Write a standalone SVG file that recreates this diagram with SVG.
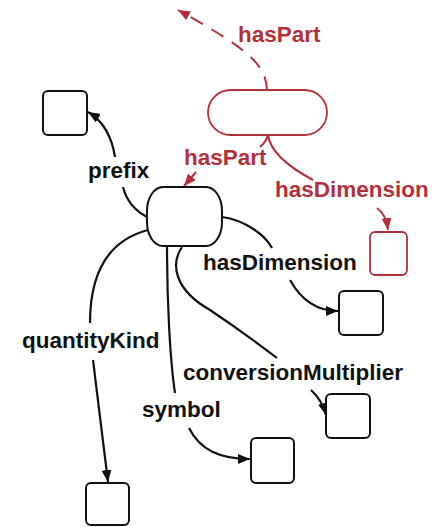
<svg xmlns="http://www.w3.org/2000/svg" width="442" height="527" viewBox="0 0 442 527">
<style>
.lbl{font-family:"Liberation Sans",Arial,sans-serif;font-weight:bold;font-size:22.5px}
.blk{fill:#111}
.red{fill:#b3303b}
.box{fill:#fff;stroke:#111;stroke-width:2}
.rbox{fill:#fff;stroke:#b3303b;stroke-width:1.8}
.e{fill:none;stroke:#111;stroke-width:2.2}
.re{fill:none;stroke:#b3303b;stroke-width:2}
</style>
<defs>
<marker id="ab" viewBox="0 0 12 10" refX="12" refY="5" markerWidth="12" markerHeight="10" markerUnits="userSpaceOnUse" orient="auto">
<path d="M0,0 L12,5 L0,10 z" fill="#111"/>
</marker>
<marker id="ar" viewBox="0 0 12 10" refX="12" refY="5" markerWidth="12" markerHeight="10" markerUnits="userSpaceOnUse" orient="auto">
<path d="M0,0 L12,5 L0,10 z" fill="#b3303b"/>
</marker>
</defs>
<g id="connectors">
<path class="re" d="M267,90 C266,65 250,50 178,10" stroke-dasharray="14 10" marker-end="url(#ar)"/>
<path class="re" d="M268,135 Q266,142 260,147"/>
<path class="re" d="M196,172 L184,186" marker-end="url(#ar)"/>
<path class="re" d="M268,135 C270,150 285,165 313,180"/>
<path class="re" d="M377,208 Q386,214 388,230" marker-end="url(#ar)"/>
<path class="e" d="M147,217 Q128,207 123,187"/>
<path class="e" d="M115,157 Q110,125 88,112" marker-end="url(#ab)"/>
<path class="e" d="M148,230 C110,240 90,270 90,323"/>
<path class="e" d="M93,360 L108,482" marker-end="url(#ab)"/>
<path class="e" d="M167,247 C167,300 170,360 175,393"/>
<path class="e" d="M189,428 C200,450 220,459 250,459" marker-end="url(#ab)"/>
<path class="e" d="M182,247 C170,265 175,290 210,310 C240,330 260,345 277,358"/>
<path class="e" d="M311,390 Q322,400 326,415" marker-end="url(#ab)"/>
<path class="e" d="M222,217 C245,220 265,235 272,248"/>
<path class="e" d="M290,280 C300,298 315,311 338,311" marker-end="url(#ab)"/>
</g>
<g id="n_red_pill"><rect class="rbox" x="208" y="90" width="119" height="45" rx="22.5" ry="22.5"/></g>
<g id="n_red_box"><rect class="rbox" x="370" y="232" width="37" height="43" rx="5"/></g>
<g id="n_center"><rect class="box" x="147" y="187" width="75" height="59" rx="16" ry="24"/></g>
<g id="n_prefix"><rect class="box" x="43" y="91" width="44" height="44" rx="5"/></g>
<g id="n_hasDimension"><rect class="box" x="339" y="291" width="44" height="44" rx="5"/></g>
<g id="n_conversionMultiplier"><rect class="box" x="326" y="394" width="44" height="44" rx="5"/></g>
<g id="n_symbol"><rect class="box" x="251" y="438" width="43" height="45" rx="5"/></g>
<g id="n_quantityKind"><rect class="box" x="86" y="483" width="43" height="42" rx="5"/></g>
<g id="labels">
<text class="lbl red" x="238" y="42">hasPart</text>
<text class="lbl red" x="184" y="165">hasPart</text>
<text class="lbl red" x="275" y="197">hasDimension</text>
<text class="lbl blk" x="88" y="178">prefix</text>
<text class="lbl blk" x="203" y="270">hasDimension</text>
<text class="lbl blk" x="22" y="348">quantityKind</text>
<text class="lbl blk" x="183" y="380">conversionMultiplier</text>
<text class="lbl blk" x="142" y="417">symbol</text>
</g>
</svg>
